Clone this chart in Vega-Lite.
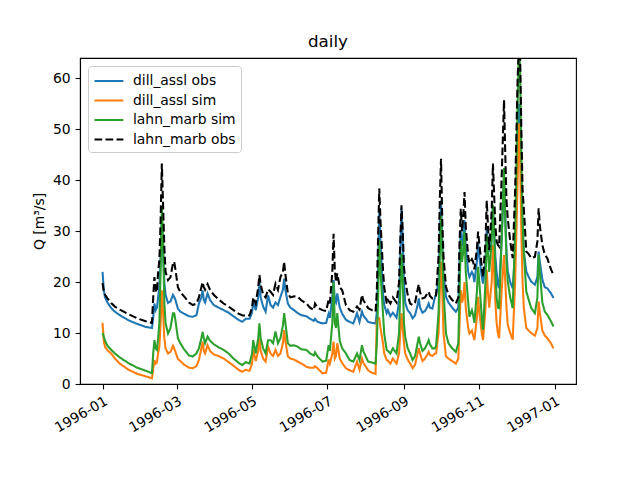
{
 "$schema": "https://vega.github.io/schema/vega-lite/v6.json",
 "width": 496, "height": 326,
 "autosize": {"type": "none"},
 "padding": {"left": 80, "top": 58, "right": 64, "bottom": 96},
 "title": {"text": "daily", "fontSize": 16.7, "fontWeight": "normal", "font": "DejaVu Sans", "offset": 7, "color": "black"},
 "data": {"values": [
 {"t":"1996-01-01","dill_assl obs":22,"dill_assl sim":12,"lahn_marb sim":10,"lahn_marb obs":19.8},
 {"t":"1996-01-02","dill_assl obs":18.5,"dill_assl sim":8.5,"lahn_marb sim":9.3,"lahn_marb obs":18.2},
 {"t":"1996-01-03","dill_assl obs":17,"dill_assl sim":7.3,"lahn_marb sim":8.5,"lahn_marb obs":17.5},
 {"t":"1996-01-05","dill_assl obs":16,"dill_assl sim":6.6,"lahn_marb sim":7.5,"lahn_marb obs":16.8},
 {"t":"1996-01-08","dill_assl obs":14.9,"dill_assl sim":6,"lahn_marb sim":6.7,"lahn_marb obs":15.9},
 {"t":"1996-01-11","dill_assl obs":14.2,"dill_assl sim":5,"lahn_marb sim":6,"lahn_marb obs":15.2},
 {"t":"1996-01-15","dill_assl obs":13.5,"dill_assl sim":4,"lahn_marb sim":5.2,"lahn_marb obs":14.6},
 {"t":"1996-01-22","dill_assl obs":12.5,"dill_assl sim":2.8,"lahn_marb sim":4.1,"lahn_marb obs":13.7},
 {"t":"1996-01-29","dill_assl obs":11.8,"dill_assl sim":2,"lahn_marb sim":3.2,"lahn_marb obs":12.9},
 {"t":"1996-02-05","dill_assl obs":11.2,"dill_assl sim":1.5,"lahn_marb sim":2.6,"lahn_marb obs":12.3},
 {"t":"1996-02-10","dill_assl obs":11,"dill_assl sim":1.1,"lahn_marb sim":2.1,"lahn_marb obs":12},
 {"t":"1996-02-11","dill_assl obs":13,"dill_assl sim":3,"lahn_marb sim":6,"lahn_marb obs":17},
 {"t":"1996-02-12","dill_assl obs":15.8,"dill_assl sim":4.7,"lahn_marb sim":8.6,"lahn_marb obs":21},
 {"t":"1996-02-13","dill_assl obs":14.5,"dill_assl sim":4,"lahn_marb sim":7,"lahn_marb obs":18.5},
 {"t":"1996-02-14","dill_assl obs":15,"dill_assl sim":4.2,"lahn_marb sim":6.7,"lahn_marb obs":18},
 {"t":"1996-02-15","dill_assl obs":17,"dill_assl sim":6,"lahn_marb sim":9,"lahn_marb obs":22},
 {"t":"1996-02-16","dill_assl obs":19.1,"dill_assl sim":7.3,"lahn_marb sim":12,"lahn_marb obs":24.3},
 {"t":"1996-02-17","dill_assl obs":25,"dill_assl sim":12,"lahn_marb sim":22,"lahn_marb obs":32},
 {"t":"1996-02-18","dill_assl obs":32,"dill_assl sim":18.4,"lahn_marb sim":34.8,"lahn_marb obs":43.3},
 {"t":"1996-02-19","dill_assl obs":26,"dill_assl sim":14,"lahn_marb sim":28,"lahn_marb obs":35},
 {"t":"1996-02-20","dill_assl obs":20,"dill_assl sim":9,"lahn_marb sim":16,"lahn_marb obs":27},
 {"t":"1996-02-21","dill_assl obs":17.5,"dill_assl sim":7,"lahn_marb sim":12,"lahn_marb obs":22},
 {"t":"1996-02-23","dill_assl obs":15.9,"dill_assl sim":6,"lahn_marb sim":9.9,"lahn_marb obs":20.4},
 {"t":"1996-02-25","dill_assl obs":16.2,"dill_assl sim":6.3,"lahn_marb sim":11,"lahn_marb obs":21},
 {"t":"1996-02-27","dill_assl obs":17.5,"dill_assl sim":7.5,"lahn_marb sim":13.9,"lahn_marb obs":23.7},
 {"t":"1996-02-28","dill_assl obs":17.1,"dill_assl sim":7,"lahn_marb sim":13.9,"lahn_marb obs":24},
 {"t":"1996-02-29","dill_assl obs":16.5,"dill_assl sim":6.3,"lahn_marb sim":12.5,"lahn_marb obs":22.5},
 {"t":"1996-03-02","dill_assl obs":14.8,"dill_assl sim":4.9,"lahn_marb sim":9,"lahn_marb obs":19},
 {"t":"1996-03-04","dill_assl obs":14.2,"dill_assl sim":4.5,"lahn_marb sim":8,"lahn_marb obs":18},
 {"t":"1996-03-07","dill_assl obs":13.8,"dill_assl sim":3.8,"lahn_marb sim":6.8,"lahn_marb obs":17.2},
 {"t":"1996-03-11","dill_assl obs":13.3,"dill_assl sim":3.2,"lahn_marb sim":5.6,"lahn_marb obs":16},
 {"t":"1996-03-14","dill_assl obs":13.2,"dill_assl sim":3.1,"lahn_marb sim":5.4,"lahn_marb obs":15.5},
 {"t":"1996-03-17","dill_assl obs":13.5,"dill_assl sim":3.5,"lahn_marb sim":6,"lahn_marb obs":15.8},
 {"t":"1996-03-19","dill_assl obs":15.8,"dill_assl sim":4.7,"lahn_marb sim":7,"lahn_marb obs":17},
 {"t":"1996-03-21","dill_assl obs":17,"dill_assl sim":7,"lahn_marb sim":9,"lahn_marb obs":19},
 {"t":"1996-03-22","dill_assl obs":18.4,"dill_assl sim":8.3,"lahn_marb sim":10.2,"lahn_marb obs":20},
 {"t":"1996-03-23","dill_assl obs":16.5,"dill_assl sim":6.5,"lahn_marb sim":9,"lahn_marb obs":19},
 {"t":"1996-03-24","dill_assl obs":16,"dill_assl sim":6,"lahn_marb sim":8,"lahn_marb obs":18.5},
 {"t":"1996-03-26","dill_assl obs":17.8,"dill_assl sim":7.6,"lahn_marb sim":9.3,"lahn_marb obs":19.6},
 {"t":"1996-03-28","dill_assl obs":16.5,"dill_assl sim":6.5,"lahn_marb sim":8.5,"lahn_marb obs":18.5},
 {"t":"1996-03-31","dill_assl obs":15.5,"dill_assl sim":5.8,"lahn_marb sim":7.8,"lahn_marb obs":17.5},
 {"t":"1996-04-04","dill_assl obs":15,"dill_assl sim":5.5,"lahn_marb sim":7.2,"lahn_marb obs":16.6},
 {"t":"1996-04-08","dill_assl obs":14.5,"dill_assl sim":5,"lahn_marb sim":6.7,"lahn_marb obs":15.8},
 {"t":"1996-04-12","dill_assl obs":14,"dill_assl sim":4.3,"lahn_marb sim":6,"lahn_marb obs":15.2},
 {"t":"1996-04-16","dill_assl obs":13.3,"dill_assl sim":3.6,"lahn_marb sim":5,"lahn_marb obs":14.5},
 {"t":"1996-04-20","dill_assl obs":12.6,"dill_assl sim":2.8,"lahn_marb sim":4.2,"lahn_marb obs":13.8},
 {"t":"1996-04-23","dill_assl obs":12.2,"dill_assl sim":2.4,"lahn_marb sim":3.7,"lahn_marb obs":13.5},
 {"t":"1996-04-26","dill_assl obs":12.8,"dill_assl sim":2.8,"lahn_marb sim":4.3,"lahn_marb obs":13.4},
 {"t":"1996-04-29","dill_assl obs":12.8,"dill_assl sim":2.6,"lahn_marb sim":4,"lahn_marb obs":13.5},
 {"t":"1996-05-01","dill_assl obs":14,"dill_assl sim":4,"lahn_marb sim":6,"lahn_marb obs":15},
 {"t":"1996-05-02","dill_assl obs":16.1,"dill_assl sim":6.7,"lahn_marb sim":8.6,"lahn_marb obs":17},
 {"t":"1996-05-04","dill_assl obs":14.5,"dill_assl sim":4.5,"lahn_marb sim":6,"lahn_marb obs":15.8},
 {"t":"1996-05-06","dill_assl obs":17,"dill_assl sim":6.5,"lahn_marb sim":9,"lahn_marb obs":19},
 {"t":"1996-05-07","dill_assl obs":20,"dill_assl sim":9,"lahn_marb sim":11.9,"lahn_marb obs":21.4},
 {"t":"1996-05-08","dill_assl obs":17,"dill_assl sim":6.5,"lahn_marb sim":9,"lahn_marb obs":19.5},
 {"t":"1996-05-10","dill_assl obs":15.2,"dill_assl sim":5,"lahn_marb sim":7,"lahn_marb obs":17.5},
 {"t":"1996-05-12","dill_assl obs":14.2,"dill_assl sim":4.4,"lahn_marb sim":6,"lahn_marb obs":17},
 {"t":"1996-05-14","dill_assl obs":17.4,"dill_assl sim":7.3,"lahn_marb sim":8.6,"lahn_marb obs":18.6},
 {"t":"1996-05-16","dill_assl obs":15.5,"dill_assl sim":6,"lahn_marb sim":8.6,"lahn_marb obs":18.1},
 {"t":"1996-05-18","dill_assl obs":15,"dill_assl sim":5.5,"lahn_marb sim":8,"lahn_marb obs":17.5},
 {"t":"1996-05-20","dill_assl obs":16,"dill_assl sim":6.7,"lahn_marb sim":10.3,"lahn_marb obs":19.7},
 {"t":"1996-05-22","dill_assl obs":15.5,"dill_assl sim":5.5,"lahn_marb sim":8,"lahn_marb obs":18.5},
 {"t":"1996-05-24","dill_assl obs":17.1,"dill_assl sim":6,"lahn_marb sim":9,"lahn_marb obs":21},
 {"t":"1996-05-26","dill_assl obs":18.5,"dill_assl sim":8,"lahn_marb sim":11.5,"lahn_marb obs":22},
 {"t":"1996-05-27","dill_assl obs":20.7,"dill_assl sim":10.6,"lahn_marb sim":13.9,"lahn_marb obs":24},
 {"t":"1996-05-28","dill_assl obs":18.5,"dill_assl sim":8.5,"lahn_marb sim":12,"lahn_marb obs":21.5},
 {"t":"1996-05-30","dill_assl obs":15.8,"dill_assl sim":5.4,"lahn_marb sim":8,"lahn_marb obs":17.8},
 {"t":"1996-06-01","dill_assl obs":15,"dill_assl sim":5,"lahn_marb sim":7.5,"lahn_marb obs":17},
 {"t":"1996-06-04","dill_assl obs":14.5,"dill_assl sim":4.8,"lahn_marb sim":7.6,"lahn_marb obs":17.2},
 {"t":"1996-06-07","dill_assl obs":13.9,"dill_assl sim":4.4,"lahn_marb sim":7.3,"lahn_marb obs":17.1},
 {"t":"1996-06-10","dill_assl obs":13.5,"dill_assl sim":4,"lahn_marb sim":6.8,"lahn_marb obs":16.4},
 {"t":"1996-06-14","dill_assl obs":13.3,"dill_assl sim":3.4,"lahn_marb sim":6.7,"lahn_marb obs":15.8},
 {"t":"1996-06-17","dill_assl obs":12.8,"dill_assl sim":3.2,"lahn_marb sim":6,"lahn_marb obs":15},
 {"t":"1996-06-20","dill_assl obs":12.4,"dill_assl sim":3.2,"lahn_marb sim":5.6,"lahn_marb obs":14.5},
 {"t":"1996-06-21","dill_assl obs":12.8,"dill_assl sim":3.5,"lahn_marb sim":6.2,"lahn_marb obs":15.8},
 {"t":"1996-06-23","dill_assl obs":12.2,"dill_assl sim":3.1,"lahn_marb sim":5.4,"lahn_marb obs":15},
 {"t":"1996-06-27","dill_assl obs":11.9,"dill_assl sim":2.1,"lahn_marb sim":4.4,"lahn_marb obs":14.5},
 {"t":"1996-06-30","dill_assl obs":12,"dill_assl sim":2.2,"lahn_marb sim":4.6,"lahn_marb obs":14.3},
 {"t":"1996-07-02","dill_assl obs":13.8,"dill_assl sim":4.8,"lahn_marb sim":7.6,"lahn_marb obs":16.5},
 {"t":"1996-07-03","dill_assl obs":13,"dill_assl sim":4,"lahn_marb sim":6.5,"lahn_marb obs":15.8},
 {"t":"1996-07-05","dill_assl obs":17,"dill_assl sim":6,"lahn_marb sim":12,"lahn_marb obs":22},
 {"t":"1996-07-06","dill_assl obs":20.4,"dill_assl sim":8.3,"lahn_marb sim":20,"lahn_marb obs":29.5},
 {"t":"1996-07-07","dill_assl obs":16.5,"dill_assl sim":5,"lahn_marb sim":12,"lahn_marb obs":22.4},
 {"t":"1996-07-08","dill_assl obs":16,"dill_assl sim":5.5,"lahn_marb sim":11,"lahn_marb obs":20},
 {"t":"1996-07-09","dill_assl obs":17.8,"dill_assl sim":8,"lahn_marb sim":13.9,"lahn_marb obs":21.7},
 {"t":"1996-07-11","dill_assl obs":15,"dill_assl sim":5,"lahn_marb sim":8.5,"lahn_marb obs":19},
 {"t":"1996-07-13","dill_assl obs":13.8,"dill_assl sim":4.1,"lahn_marb sim":7,"lahn_marb obs":18.4},
 {"t":"1996-07-16","dill_assl obs":12.6,"dill_assl sim":3.1,"lahn_marb sim":6,"lahn_marb obs":15.5},
 {"t":"1996-07-19","dill_assl obs":12.2,"dill_assl sim":2.7,"lahn_marb sim":4.7,"lahn_marb obs":14.5},
 {"t":"1996-07-22","dill_assl obs":11.9,"dill_assl sim":2.4,"lahn_marb sim":4.4,"lahn_marb obs":14.2},
 {"t":"1996-07-25","dill_assl obs":13.9,"dill_assl sim":4.4,"lahn_marb sim":6,"lahn_marb obs":15.2},
 {"t":"1996-07-27","dill_assl obs":12.2,"dill_assl sim":2.8,"lahn_marb sim":4.7,"lahn_marb obs":14.6},
 {"t":"1996-07-29","dill_assl obs":14.2,"dill_assl sim":5,"lahn_marb sim":7.6,"lahn_marb obs":17.5},
 {"t":"1996-07-30","dill_assl obs":13.5,"dill_assl sim":4.2,"lahn_marb sim":6.5,"lahn_marb obs":16.5},
 {"t":"1996-08-03","dill_assl obs":12.2,"dill_assl sim":2.7,"lahn_marb sim":4.4,"lahn_marb obs":14.9},
 {"t":"1996-08-06","dill_assl obs":12,"dill_assl sim":2.2,"lahn_marb sim":4.2,"lahn_marb obs":14.5},
 {"t":"1996-08-09","dill_assl obs":11.9,"dill_assl sim":2,"lahn_marb sim":4,"lahn_marb obs":14.2},
 {"t":"1996-08-10","dill_assl obs":14,"dill_assl sim":12.5,"lahn_marb sim":8,"lahn_marb obs":18},
 {"t":"1996-08-11","dill_assl obs":22,"dill_assl sim":12.8,"lahn_marb sim":16,"lahn_marb obs":28},
 {"t":"1996-08-12","dill_assl obs":34,"dill_assl sim":12.9,"lahn_marb sim":28.2,"lahn_marb obs":38.4},
 {"t":"1996-08-13","dill_assl obs":28,"dill_assl sim":11,"lahn_marb sim":22,"lahn_marb obs":32},
 {"t":"1996-08-15","dill_assl obs":17.8,"dill_assl sim":8,"lahn_marb sim":13.9,"lahn_marb obs":22.4},
 {"t":"1996-08-16","dill_assl obs":15.5,"dill_assl sim":6,"lahn_marb sim":9.9,"lahn_marb obs":19},
 {"t":"1996-08-18","dill_assl obs":13.9,"dill_assl sim":4.7,"lahn_marb sim":6.7,"lahn_marb obs":15.8},
 {"t":"1996-08-19","dill_assl obs":14.5,"dill_assl sim":4.6,"lahn_marb sim":6.5,"lahn_marb obs":16.5},
 {"t":"1996-08-21","dill_assl obs":13.3,"dill_assl sim":4,"lahn_marb sim":6,"lahn_marb obs":15.8},
 {"t":"1996-08-23","dill_assl obs":14,"dill_assl sim":5,"lahn_marb sim":7,"lahn_marb obs":17},
 {"t":"1996-08-26","dill_assl obs":13,"dill_assl sim":4,"lahn_marb sim":6,"lahn_marb obs":16},
 {"t":"1996-08-28","dill_assl obs":16,"dill_assl sim":6,"lahn_marb sim":10,"lahn_marb obs":20},
 {"t":"1996-08-29","dill_assl obs":25,"dill_assl sim":10,"lahn_marb sim":18,"lahn_marb obs":28},
 {"t":"1996-08-30","dill_assl obs":34.5,"dill_assl sim":13.9,"lahn_marb sim":25.6,"lahn_marb obs":35.1},
 {"t":"1996-08-31","dill_assl obs":28,"dill_assl sim":11,"lahn_marb sim":20,"lahn_marb obs":30},
 {"t":"1996-09-01","dill_assl obs":20,"dill_assl sim":8,"lahn_marb sim":12,"lahn_marb obs":23},
 {"t":"1996-09-02","dill_assl obs":15.9,"dill_assl sim":6,"lahn_marb sim":9.3,"lahn_marb obs":20.4},
 {"t":"1996-09-04","dill_assl obs":14.5,"dill_assl sim":4.8,"lahn_marb sim":7,"lahn_marb obs":17.5},
 {"t":"1996-09-06","dill_assl obs":13.9,"dill_assl sim":4,"lahn_marb sim":6,"lahn_marb obs":15.8},
 {"t":"1996-09-08","dill_assl obs":12.9,"dill_assl sim":3.1,"lahn_marb sim":4.7,"lahn_marb obs":15.5},
 {"t":"1996-09-10","dill_assl obs":13.5,"dill_assl sim":3.8,"lahn_marb sim":5.5,"lahn_marb obs":16},
 {"t":"1996-09-12","dill_assl obs":15.5,"dill_assl sim":6,"lahn_marb sim":8,"lahn_marb obs":18.5},
 {"t":"1996-09-13","dill_assl obs":16.8,"dill_assl sim":7,"lahn_marb sim":9.3,"lahn_marb obs":19.6},
 {"t":"1996-09-14","dill_assl obs":15,"dill_assl sim":6,"lahn_marb sim":8,"lahn_marb obs":18},
 {"t":"1996-09-16","dill_assl obs":14,"dill_assl sim":4.5,"lahn_marb sim":6.5,"lahn_marb obs":16.8},
 {"t":"1996-09-18","dill_assl obs":14.3,"dill_assl sim":5,"lahn_marb sim":7,"lahn_marb obs":17},
 {"t":"1996-09-20","dill_assl obs":15.2,"dill_assl sim":5.8,"lahn_marb sim":8,"lahn_marb obs":17.8},
 {"t":"1996-09-21","dill_assl obs":15.8,"dill_assl sim":6.3,"lahn_marb sim":8.6,"lahn_marb obs":18.1},
 {"t":"1996-09-22","dill_assl obs":15,"dill_assl sim":5.7,"lahn_marb sim":7.8,"lahn_marb obs":17.3},
 {"t":"1996-09-24","dill_assl obs":14.8,"dill_assl sim":5.5,"lahn_marb sim":7,"lahn_marb obs":16.8},
 {"t":"1996-09-26","dill_assl obs":17,"dill_assl sim":6,"lahn_marb sim":7,"lahn_marb obs":17},
 {"t":"1996-09-27","dill_assl obs":17.5,"dill_assl sim":6,"lahn_marb sim":7.5,"lahn_marb obs":17.5},
 {"t":"1996-09-29","dill_assl obs":20,"dill_assl sim":10,"lahn_marb sim":14,"lahn_marb obs":25},
 {"t":"1996-09-30","dill_assl obs":30,"dill_assl sim":18,"lahn_marb sim":25,"lahn_marb obs":36},
 {"t":"1996-10-01","dill_assl obs":36,"dill_assl sim":24,"lahn_marb sim":33,"lahn_marb obs":44.2},
 {"t":"1996-10-02","dill_assl obs":28,"dill_assl sim":18,"lahn_marb sim":26,"lahn_marb obs":32},
 {"t":"1996-10-03","dill_assl obs":21.7,"dill_assl sim":10,"lahn_marb sim":18.4,"lahn_marb obs":25},
 {"t":"1996-10-05","dill_assl obs":17.1,"dill_assl sim":5.4,"lahn_marb sim":9.9,"lahn_marb obs":19.1},
 {"t":"1996-10-07","dill_assl obs":16,"dill_assl sim":5,"lahn_marb sim":8,"lahn_marb obs":17.5},
 {"t":"1996-10-10","dill_assl obs":15,"dill_assl sim":4.5,"lahn_marb sim":7,"lahn_marb obs":16.5},
 {"t":"1996-10-13","dill_assl obs":14.2,"dill_assl sim":4,"lahn_marb sim":6.3,"lahn_marb obs":15.8},
 {"t":"1996-10-15","dill_assl obs":15,"dill_assl sim":5,"lahn_marb sim":8,"lahn_marb obs":17},
 {"t":"1996-10-16","dill_assl obs":25,"dill_assl sim":12,"lahn_marb sim":18,"lahn_marb obs":28},
 {"t":"1996-10-17","dill_assl obs":30,"dill_assl sim":18.4,"lahn_marb sim":28.2,"lahn_marb obs":34.4},
 {"t":"1996-10-18","dill_assl obs":27,"dill_assl sim":16,"lahn_marb sim":24,"lahn_marb obs":30},
 {"t":"1996-10-19","dill_assl obs":29,"dill_assl sim":17,"lahn_marb sim":26,"lahn_marb obs":33},
 {"t":"1996-10-20","dill_assl obs":32.2,"dill_assl sim":20,"lahn_marb sim":30,"lahn_marb obs":37.7},
 {"t":"1996-10-21","dill_assl obs":27,"dill_assl sim":15,"lahn_marb sim":22,"lahn_marb obs":31},
 {"t":"1996-10-23","dill_assl obs":22,"dill_assl sim":11,"lahn_marb sim":16,"lahn_marb obs":25},
 {"t":"1996-10-24","dill_assl obs":21,"dill_assl sim":9.9,"lahn_marb sim":13.2,"lahn_marb obs":23.7},
 {"t":"1996-10-26","dill_assl obs":22,"dill_assl sim":10.5,"lahn_marb sim":14.5,"lahn_marb obs":24.5},
 {"t":"1996-10-27","dill_assl obs":21.5,"dill_assl sim":9.5,"lahn_marb sim":13.5,"lahn_marb obs":24},
 {"t":"1996-10-28","dill_assl obs":20,"dill_assl sim":8.6,"lahn_marb sim":12,"lahn_marb obs":22.5},
 {"t":"1996-10-30","dill_assl obs":24,"dill_assl sim":13,"lahn_marb sim":18,"lahn_marb obs":26.5},
 {"t":"1996-10-31","dill_assl obs":27.6,"dill_assl sim":17.1,"lahn_marb sim":23,"lahn_marb obs":29.9},
 {"t":"1996-11-01","dill_assl obs":25,"dill_assl sim":14,"lahn_marb sim":20,"lahn_marb obs":27.5},
 {"t":"1996-11-03","dill_assl obs":21,"dill_assl sim":10,"lahn_marb sim":13,"lahn_marb obs":23},
 {"t":"1996-11-04","dill_assl obs":19.7,"dill_assl sim":8.6,"lahn_marb sim":10.6,"lahn_marb obs":21},
 {"t":"1996-11-06","dill_assl obs":24,"dill_assl sim":15,"lahn_marb sim":20,"lahn_marb obs":28},
 {"t":"1996-11-07","dill_assl obs":30.2,"dill_assl sim":22.4,"lahn_marb sim":29.3,"lahn_marb obs":36},
 {"t":"1996-11-08","dill_assl obs":28,"dill_assl sim":18,"lahn_marb sim":26,"lahn_marb obs":31},
 {"t":"1996-11-09","dill_assl obs":26,"dill_assl sim":15,"lahn_marb sim":22,"lahn_marb obs":26.3},
 {"t":"1996-11-11","dill_assl obs":29,"dill_assl sim":20,"lahn_marb sim":28,"lahn_marb obs":34},
 {"t":"1996-11-12","dill_assl obs":34.5,"dill_assl sim":27.3,"lahn_marb sim":35.2,"lahn_marb obs":43.3},
 {"t":"1996-11-13","dill_assl obs":30,"dill_assl sim":22,"lahn_marb sim":30,"lahn_marb obs":37},
 {"t":"1996-11-14","dill_assl obs":25,"dill_assl sim":16,"lahn_marb sim":22,"lahn_marb obs":31},
 {"t":"1996-11-15","dill_assl obs":22,"dill_assl sim":12,"lahn_marb sim":17,"lahn_marb obs":28},
 {"t":"1996-11-16","dill_assl obs":19.5,"dill_assl sim":10,"lahn_marb sim":15,"lahn_marb obs":27.3},
 {"t":"1996-11-17","dill_assl obs":18.8,"dill_assl sim":9,"lahn_marb sim":14.9,"lahn_marb obs":27},
 {"t":"1996-11-19","dill_assl obs":28,"dill_assl sim":18,"lahn_marb sim":28,"lahn_marb obs":40},
 {"t":"1996-11-21","dill_assl obs":40,"dill_assl sim":25.3,"lahn_marb sim":42.4,"lahn_marb obs":55.7},
 {"t":"1996-11-22","dill_assl obs":33,"dill_assl sim":20,"lahn_marb sim":32,"lahn_marb obs":45},
 {"t":"1996-11-23","dill_assl obs":26,"dill_assl sim":15,"lahn_marb sim":24,"lahn_marb obs":36},
 {"t":"1996-11-24","dill_assl obs":22.1,"dill_assl sim":11.6,"lahn_marb sim":20.1,"lahn_marb obs":32.5},
 {"t":"1996-11-26","dill_assl obs":20,"dill_assl sim":10,"lahn_marb sim":17,"lahn_marb obs":28},
 {"t":"1996-11-28","dill_assl obs":18.8,"dill_assl sim":8.7,"lahn_marb sim":14.9,"lahn_marb obs":24.7},
 {"t":"1996-11-30","dill_assl obs":26,"dill_assl sim":20,"lahn_marb sim":30,"lahn_marb obs":38},
 {"t":"1996-12-02","dill_assl obs":45,"dill_assl sim":40,"lahn_marb sim":55,"lahn_marb obs":60},
 {"t":"1996-12-03","dill_assl obs":55,"dill_assl sim":51.2,"lahn_marb sim":66,"lahn_marb obs":66},
 {"t":"1996-12-04","dill_assl obs":50,"dill_assl sim":45,"lahn_marb sim":62,"lahn_marb obs":64},
 {"t":"1996-12-05","dill_assl obs":38,"dill_assl sim":30,"lahn_marb sim":45,"lahn_marb obs":50},
 {"t":"1996-12-06","dill_assl obs":30,"dill_assl sim":20,"lahn_marb sim":32,"lahn_marb obs":38},
 {"t":"1996-12-07","dill_assl obs":26,"dill_assl sim":15,"lahn_marb sim":26,"lahn_marb obs":34.5},
 {"t":"1996-12-09","dill_assl obs":22.1,"dill_assl sim":11,"lahn_marb sim":18.2,"lahn_marb obs":26},
 {"t":"1996-12-11","dill_assl obs":21,"dill_assl sim":10.5,"lahn_marb sim":16.5,"lahn_marb obs":25.5},
 {"t":"1996-12-13","dill_assl obs":20.1,"dill_assl sim":10,"lahn_marb sim":14.9,"lahn_marb obs":24.7},
 {"t":"1996-12-16","dill_assl obs":19.5,"dill_assl sim":9.5,"lahn_marb sim":13.9,"lahn_marb obs":25},
 {"t":"1996-12-18","dill_assl obs":21,"dill_assl sim":11,"lahn_marb sim":17,"lahn_marb obs":28},
 {"t":"1996-12-19","dill_assl obs":26,"dill_assl sim":16.2,"lahn_marb sim":25.4,"lahn_marb obs":34.5},
 {"t":"1996-12-20","dill_assl obs":24,"dill_assl sim":14,"lahn_marb sim":22,"lahn_marb obs":31},
 {"t":"1996-12-22","dill_assl obs":20.5,"dill_assl sim":10.5,"lahn_marb sim":16,"lahn_marb obs":27.3},
 {"t":"1996-12-24","dill_assl obs":19,"dill_assl sim":9.5,"lahn_marb sim":14.2,"lahn_marb obs":25.4},
 {"t":"1996-12-26","dill_assl obs":18.8,"dill_assl sim":9,"lahn_marb sim":13.6,"lahn_marb obs":24.7},
 {"t":"1996-12-29","dill_assl obs":17.8,"dill_assl sim":8,"lahn_marb sim":12.3,"lahn_marb obs":22.5},
 {"t":"1996-12-31","dill_assl obs":16.9,"dill_assl sim":7,"lahn_marb sim":11.3,"lahn_marb obs":21.4}
 ]},
 "transform": [{"fold": ["dill_assl obs", "dill_assl sim", "lahn_marb sim", "lahn_marb obs"], "as": ["series", "Q"]}],
 "encoding": {
  "x": {"field": "t", "type": "temporal",
        "scale": {"type": "utc", "domain": [{"year": 1995, "month": 12, "date": 13, "hours": 18, "utc": true}, {"year": 1997, "month": 1, "date": 18, "hours": 6, "utc": true}]},
        "axis": {"title": null, "format": "%Y-%m", "labelAngle": -30, "labelAlign": "right", "labelBaseline": "top", "labelOverlap": false, "labelFlush": false,
                 "values": [{"year": 1996, "month": 1, "date": 1, "utc": true}, {"year": 1996, "month": 3, "date": 1, "utc": true}, {"year": 1996, "month": 5, "date": 1, "utc": true}, {"year": 1996, "month": 7, "date": 1, "utc": true}, {"year": 1996, "month": 9, "date": 1, "utc": true}, {"year": 1996, "month": 11, "date": 1, "utc": true}, {"year": 1997, "month": 1, "date": 1, "utc": true}]}},
  "y": {"field": "Q", "type": "quantitative", "scale": {"domain": [0, 64], "nice": false, "zero": true},
        "axis": {"title": "Q [m³/s]", "values": [0, 10, 20, 30, 40, 50, 60], "titlePadding": 6}},
  "color": {"field": "series", "type": "nominal", "title": null,
            "scale": {"domain": ["dill_assl obs", "dill_assl sim", "lahn_marb sim", "lahn_marb obs"], "range": ["#1f77b4", "#ff7f0e", "#2ca02c", "#000000"]}},
  "strokeDash": {"field": "series", "type": "nominal", "title": null,
            "scale": {"domain": ["dill_assl obs", "dill_assl sim", "lahn_marb sim", "lahn_marb obs"], "range": [[1, 0], [1, 0], [1, 0], [7.7, 3.3]]}}
 },
 "layer": [
  {"transform": [{"filter": "datum.series === 'dill_assl obs'"}], "mark": {"type": "line", "strokeWidth": 2.08, "clip": true}},
  {"transform": [{"filter": "datum.series === 'dill_assl sim'"}], "mark": {"type": "line", "strokeWidth": 2.08, "clip": true}},
  {"transform": [{"filter": "datum.series === 'lahn_marb sim'"}], "mark": {"type": "line", "strokeWidth": 2.08, "clip": true}},
  {"transform": [{"filter": "datum.series === 'lahn_marb obs'"}], "mark": {"type": "line", "strokeWidth": 2.08, "clip": true}}
 ],
 "config": {
  "font": "DejaVu Sans",
  "view": {"stroke": "black", "strokeWidth": 1.1},
  "axis": {"grid": false, "domainColor": "black", "tickColor": "black", "labelColor": "black", "titleColor": "black",
           "labelFont": "DejaVu Sans", "titleFont": "DejaVu Sans", "labelFontSize": 13.9, "titleFontSize": 13.9, "titleFontWeight": "normal",
           "tickSize": 4.9, "labelPadding": 4.9, "domainWidth": 1.1, "tickWidth": 1.1},
  "legend": {"orient": "top-left", "offset": 8, "symbolType": "M-1,0H2.4", "symbolStrokeWidth": 2.08, "symbolSize": 289,
             "labelFontSize": 13.9, "labelFont": "DejaVu Sans", "labelColor": "black", "fillColor": "white", "strokeColor": "#cccccc",
             "cornerRadius": 3, "padding": 5, "rowPadding": 2.5, "labelOffset": 20}
 }
}
